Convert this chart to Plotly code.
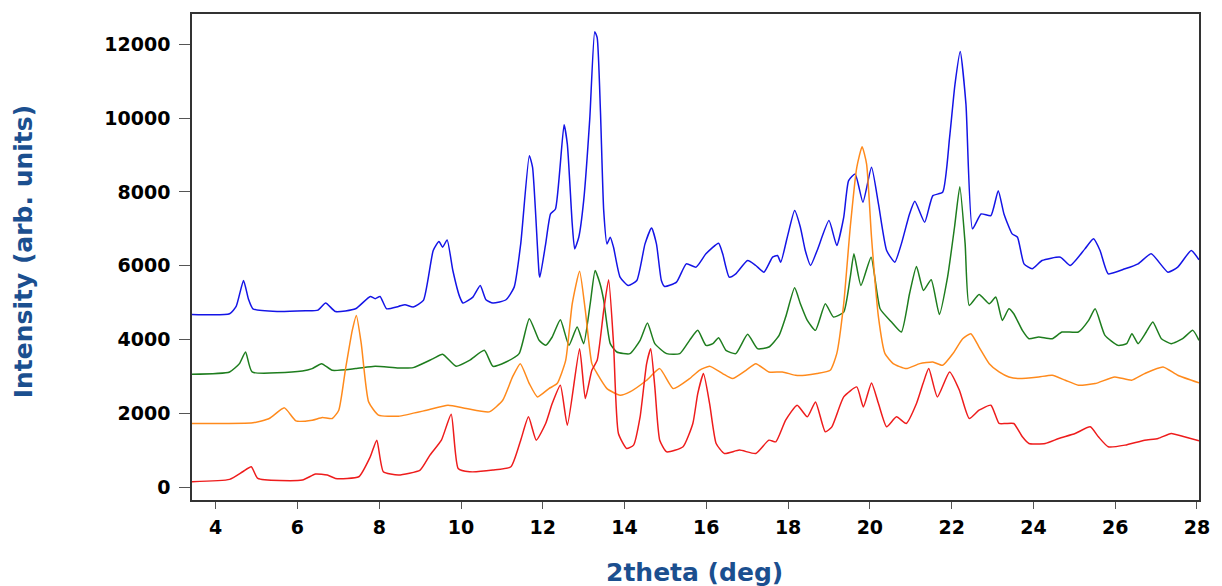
import plotly.graph_objects as go

# 2theta positions (deg) and intensities (arb. units) for each pattern
blue_x = [3.42, 4.34, 4.50, 4.68, 4.80, 4.91, 5.50, 6.20, 6.50, 6.69, 6.93, 7.42, 7.78, 7.90, 8.02, 8.18,
          8.47, 8.63, 8.83, 9.08, 9.32, 9.46, 9.55, 9.66, 9.80, 9.97, 10.05, 10.29, 10.47, 10.61, 10.78,
          11.10, 11.30, 11.46, 11.67, 11.75, 11.91, 11.93, 12.07, 12.19, 12.31, 12.52, 12.60, 12.72,
          12.78, 12.88, 13.00, 13.15, 13.27, 13.33, 13.41, 13.49, 13.57, 13.65, 13.73, 13.89, 14.09,
          14.30, 14.50, 14.66, 14.78, 14.90, 14.98, 15.27, 15.51, 15.75, 15.99, 16.30, 16.40, 16.56,
          16.72, 17.01, 17.21, 17.41, 17.62, 17.74, 17.82, 17.98, 18.16, 18.30, 18.42, 18.55, 18.71,
          19.00, 19.19, 19.36, 19.48, 19.64, 19.83, 20.04, 20.21, 20.41, 20.61, 20.77, 20.97, 21.10,
          21.34, 21.54, 21.78, 21.95, 22.08, 22.21, 22.35, 22.51, 22.72, 22.96, 23.14, 23.28, 23.48,
          23.61, 23.77, 23.97, 24.21, 24.66, 24.90, 25.26, 25.47, 25.63, 25.83, 26.24, 26.56, 26.88,
          27.29, 27.53, 27.86, 28.05]
blue_y = [4683, 4700, 4900, 5602, 5100, 4836, 4760, 4780, 4800, 4990, 4760, 4836, 5170, 5110, 5170, 4836,
          4900, 4945, 4882, 5062, 6413, 6656, 6503, 6702, 5873, 5152, 4990, 5152, 5467, 5080, 4990,
          5080, 5422, 6593, 8981, 8666, 5783, 5693, 6593, 7404, 7539, 9819, 9296, 7134,
          6458, 6774, 7765, 10000, 12341, 12179, 10197, 7494, 6593, 6774, 6503, 5693, 5467,
          5602, 6593, 7026, 6593, 5602, 5440, 5557, 6053, 5963, 6323, 6611, 6323, 5693,
          5783, 6143, 6008, 5828, 6233, 6278, 6098, 6774, 7494, 7044, 6413, 6008, 6413,
          7224, 6548, 7314, 8305, 8485, 7720, 8666, 7675, 6413, 6098, 6593, 7404, 7747,
          7179, 7900, 7990, 9476, 10900, 11801, 10377, 7000, 7404, 7359, 8035, 7404, 6864,
          6774, 6053, 5918, 6143, 6233, 6008, 6458, 6729, 6413, 5783, 5918, 6053, 6323,
          5828, 5963, 6413, 6161]

green_x = [3.42, 4.34, 4.58, 4.73, 4.89, 6.12, 6.36, 6.59, 6.85, 7.42, 7.90, 8.47, 8.83, 9.32, 9.55,
           9.88, 10.21, 10.57, 10.78, 11.10, 11.42, 11.67, 11.91, 12.07, 12.23, 12.43, 12.64, 12.84,
           13.00, 13.16, 13.28, 13.40, 13.49, 13.65, 13.81, 14.13, 14.38, 14.56, 14.74, 15.03, 15.35,
           15.59, 15.79, 15.99, 16.16, 16.30, 16.48, 16.72, 17.01, 17.25, 17.53, 17.78, 17.94, 18.16,
           18.30, 18.47, 18.67, 18.91, 19.11, 19.36, 19.52, 19.61, 19.78, 20.03, 20.25, 20.53, 20.77,
           20.97, 21.14, 21.31, 21.50, 21.70, 21.90, 22.07, 22.20, 22.33, 22.43, 22.67, 22.92, 23.08,
           23.24, 23.40, 23.52, 23.73, 23.89, 24.13, 24.46, 24.70, 25.10, 25.35, 25.51, 25.75, 26.07,
           26.28, 26.41, 26.56, 26.76, 26.92, 27.13, 27.37, 27.65, 27.90, 28.05]
green_y = [3062, 3125, 3350, 3665, 3125, 3152, 3215, 3350, 3170, 3215, 3278, 3233, 3242, 3485, 3602,
           3278, 3440, 3710, 3278, 3395, 3620, 4566, 3981, 3845, 4071, 4539, 3845, 4341,
           3891, 4972, 5873, 5512, 5062, 3891, 3665, 3620, 3981, 4449, 3891, 3620, 3620,
           3981, 4251, 3845, 3891, 4053, 3710, 3620, 4143, 3755, 3800, 4116, 4611, 5404,
           4972, 4521, 4251, 4972, 4611, 4746, 5693, 6323, 5467, 6233, 4836, 4476, 4206,
           5242, 5981, 5332, 5620, 4683, 5693, 7044, 8143, 6593, 4927, 5224, 4972, 5152,
           4521, 4836, 4701, 4251, 4026, 4071, 4026, 4206, 4206, 4521, 4836, 4116, 3845,
           3891, 4161, 3891, 4206, 4476, 4026, 3891, 4026, 4251, 3981]

orange_x = [3.42, 4.91, 5.31, 5.68, 5.96, 6.36, 6.61, 6.85, 7.01, 7.17, 7.34, 7.44, 7.56, 7.74, 7.98,
            8.47, 9.16, 9.68, 10.13, 10.69, 11.02, 11.26, 11.45, 11.67, 11.87, 12.15, 12.35, 12.56,
            12.72, 12.90, 13.04, 13.20, 13.33, 13.57, 13.89, 14.13, 14.54, 14.86, 15.19, 15.59, 15.83,
            16.08, 16.40, 16.64, 16.97, 17.21, 17.53, 17.86, 18.18, 18.42, 18.71, 19.03, 19.19, 19.36,
            19.52, 19.68, 19.81, 19.92, 20.04, 20.21, 20.37, 20.57, 20.89, 21.22, 21.54, 21.78, 22.03,
            22.27, 22.47, 22.67, 22.92, 23.16, 23.40, 23.65, 24.13, 24.46, 24.78, 25.10, 25.51, 25.99,
            26.40, 26.72, 27.17, 27.53, 28.05]
orange_y = [1729, 1747, 1864, 2152, 1801, 1819, 1891, 1864, 2089, 3170, 4251, 4656, 3891, 2314, 1954,
            1927, 2089, 2224, 2134, 2044, 2359, 2990, 3350, 2810, 2449, 2674, 2810, 3440,
            4972, 5855, 4792, 3350, 3080, 2674, 2494, 2584, 2900, 3215, 2674, 2945, 3170,
            3278, 3080, 2945, 3170, 3350, 3125, 3125, 3035, 3035, 3080, 3170, 3620, 4972,
            7044, 8666, 9224, 8756, 6774, 4611, 3620, 3350, 3215, 3350, 3395, 3305, 3620,
            4026, 4161, 3800, 3350, 3125, 2990, 2945, 2990, 3035, 2900, 2765, 2810, 2990,
            2900, 3080, 3260, 3035, 2828]

red_x = [3.42, 4.34, 4.66, 4.87, 5.03, 6.12, 6.44, 6.73, 6.93, 7.50, 7.78, 7.94, 8.10, 8.47, 9.00,
         9.24, 9.52, 9.76, 9.93, 10.21, 10.78, 11.22, 11.46, 11.65, 11.84, 12.07, 12.23, 12.43,
         12.60, 12.90, 13.04, 13.20, 13.33, 13.49, 13.61, 13.73, 13.85, 14.05, 14.22, 14.38, 14.54,
         14.64, 14.74, 14.86, 15.03, 15.43, 15.67, 15.79, 15.93, 16.08, 16.24, 16.44, 16.81, 17.21,
         17.53, 17.70, 17.94, 18.22, 18.47, 18.67, 18.91, 19.07, 19.36, 19.68, 19.84, 20.04, 20.21,
         20.41, 20.65, 20.89, 21.14, 21.30, 21.44, 21.65, 21.95, 22.19, 22.43, 22.67, 22.96, 23.16,
         23.32, 23.52, 23.73, 23.89, 24.29, 24.62, 25.02, 25.39, 25.59, 25.83, 26.24, 26.72, 27.05,
         27.37, 27.69, 28.05]
red_y = [152, 215, 422, 557, 242, 197, 359, 332, 242, 287, 827, 1278, 422, 332, 467,
         873, 1278, 1981, 512, 422, 467, 557, 1278, 1909, 1278, 1729, 2269, 2765,
         1684, 3755, 2404, 3170, 3440, 4792, 5620, 3891, 1458, 1053, 1143, 1909, 3350,
         3755, 2720, 1278, 963, 1098, 1729, 2539, 3080, 2269, 1188, 918, 1008, 918,
         1278, 1233, 1819, 2224, 1909, 2314, 1503, 1638, 2449, 2720, 2179, 2828, 2269,
         1638, 1909, 1729, 2269, 2810, 3215, 2449, 3125, 2629, 1864, 2089, 2224, 1729,
         1729, 1729, 1368, 1188, 1188, 1323, 1458, 1638, 1368, 1098, 1143, 1278, 1323,
         1458, 1368, 1260]

x_ticks = [4, 6, 8, 10, 12, 14, 16, 18, 20, 22, 24, 26, 28]
y_ticks = [0, 2000, 4000, 6000, 8000, 10000, 12000]

series = [
    (blue_x, blue_y, "#1414E6"),
    (green_x, green_y, "#1E7D1E"),
    (orange_x, orange_y, "#FF8A1C"),
    (red_x, red_y, "#EE1C1C"),
]

fig = go.Figure()
for xs, ys, color in series:
    fig.add_trace(go.Scatter(x=xs, y=ys, mode="lines",
                             line=dict(color=color, width=1.5, shape="spline", smoothing=0.5),
                             showlegend=False, hoverinfo="skip"))

tick_font = dict(family="DejaVu Sans", size=19, color="black", weight="bold")
title_color = "#1B4F8F"

fig.update_xaxes(range=[3.42, 28.05], tickvals=x_ticks, ticktext=[str(v) for v in x_ticks],
                 ticks="outside", ticklen=7, tickcolor="#555555", tickwidth=1,
                 ticklabelstandoff=2, tickfont=tick_font,
                 showline=True, linecolor="#333333", linewidth=1.5, mirror=True,
                 showgrid=False, zeroline=False)
fig.update_yaxes(range=[-343, 12819], tickvals=y_ticks, ticktext=[str(v) for v in y_ticks],
                 ticks="outside", ticklen=11, tickcolor="#555555", tickwidth=1,
                 ticklabelstandoff=5, tickfont=tick_font,
                 showline=True, linecolor="#333333", linewidth=1.5, mirror=True,
                 showgrid=False, zeroline=False)

fig.add_annotation(text="Intensity (arb. units)", xref="paper", yref="paper",
                   x=-0.1677, y=0.51, xanchor="center", yanchor="middle", textangle=-90,
                   showarrow=False,
                   font=dict(family="DejaVu Sans", size=25, color=title_color, weight="bold"))
fig.add_annotation(text="2theta (deg)", xref="paper", yref="paper",
                   x=0.499, y=-0.150, xanchor="center", yanchor="middle",
                   showarrow=False,
                   font=dict(family="DejaVu Sans", size=25, color=title_color, weight="bold"))

fig.update_layout(width=1222, height=586,
                  margin=dict(l=192, r=16, t=14, b=86),
                  paper_bgcolor="white", plot_bgcolor="white")

fig.write_html("out.html")
